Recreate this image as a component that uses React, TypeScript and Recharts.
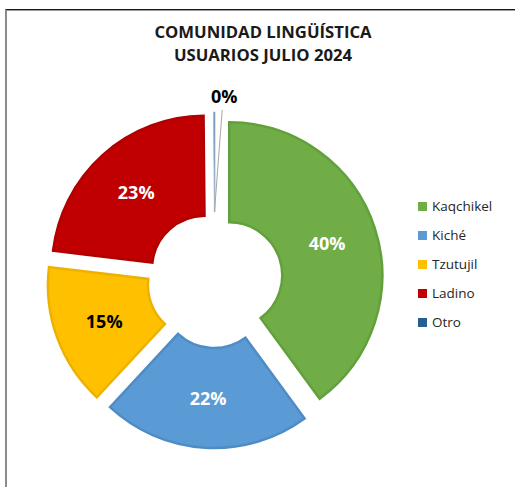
import React from 'react';
import { PieChart, Pie, Cell, Sector, Legend } from 'recharts';

const categories = ['Kaqchikel', 'Kiché', 'Tzutujil', 'Ladino', 'Otro'];
const values = [40, 22, 15, 23, 0.15];
const fills = ['#70AD47', '#5B9BD5', '#FFC000', '#C00000', '#255E91'];
const borders = ['#62A03C', '#4F8CC6', '#EDB200', '#B00000', '#A9BCD6'];
const labelColors = ['#FFFFFF', '#FFFFFF', '#000000', '#FFFFFF', '#000000'];
const titleLines = ['COMUNIDAD LINGÜÍSTICA', 'USUARIOS JULIO 2024'];

const data = categories.map((name, i) => ({ name, value: values[i] }));

const EXPLODE = 15;
const RAD = Math.PI / 180;
const FONT = '"Open Sans", "Noto Sans", sans-serif';

const offset = (midAngle: number) => ({
  dx: EXPLODE * Math.cos(-midAngle * RAD),
  dy: EXPLODE * Math.sin(-midAngle * RAD),
});

const ExplodedSector = (props: any) => {
  const { cx, cy, midAngle } = props;
  const { dx, dy } = offset(midAngle);
  return <Sector {...props} cx={cx + dx} cy={cy + dy} />;
};

const renderLabel = (props: any) => {
  const { cx, cy, midAngle, innerRadius, outerRadius, percent, index } = props;
  const { dx, dy } = offset(midAngle);
  const ox = cx + dx;
  const oy = cy + dy;
  const r = (innerRadius + outerRadius) / 2;
  const lx = ox + r * Math.cos(-midAngle * RAD);
  const ly = oy + r * Math.sin(-midAngle * RAD);
  const text = `${Math.round(percent * 100)}%`;
  if (index === 4) {
    const ex = ox + (outerRadius + 2) * Math.cos(-midAngle * RAD) + 8;
    const ey = oy + (outerRadius + 2) * Math.sin(-midAngle * RAD);
    return (
      <g>
        <line x1={lx} y1={ly + 50} x2={ex} y2={ey} stroke="#A6A6A6" strokeWidth={1} />
        <text
          x={ex + 2}
          y={ey - 14}
          textAnchor="middle"
          dominantBaseline="central"
          fill={labelColors[index]}
          fontFamily={FONT}
          fontWeight={700}
          fontSize={18}
        >
          {text}
        </text>
      </g>
    );
  }
  return (
    <text
      x={lx}
      y={ly}
      textAnchor="middle"
      dominantBaseline="central"
      fill={labelColors[index]}
      fontFamily={FONT}
      fontWeight={700}
      fontSize={18}
    >
      {text}
    </text>
  );
};

const renderLegend = () => (
  <div style={{ fontFamily: FONT, fontSize: 13.5, color: '#262626' }}>
    {categories.map((c, i) => (
      <div key={c} style={{ height: 29, display: 'flex', alignItems: 'center' }}>
        <span style={{ width: 9, height: 9, background: fills[i], display: 'inline-block', marginRight: 5 }} />
        <span>{c}</span>
      </div>
    ))}
  </div>
);

export default function App() {
  return (
    <div style={{ position: 'absolute', left: 0, top: 0, width: 515, height: 487, background: '#fff', overflow: 'hidden' }}>
      <div
        style={{
          position: 'absolute',
          left: 5,
          top: 9,
          width: 530,
          height: 500,
          borderTop: '1px solid #1a1a1a',
          borderLeft: '2px solid #8c8c8c',
          boxShadow: 'inset 0 1px 0 #9a9a9a',
        }}
      />
      <div
        style={{
          position: 'absolute',
          left: 0,
          top: 20,
          width: 526,
          textAlign: 'center',
          fontFamily: FONT,
          fontWeight: 700,
          fontSize: 16.7,
          lineHeight: '23px',
          color: '#1a1a1a',
        }}
      >
        {titleLines.map((t) => (
          <div key={t}>{t}</div>
        ))}
      </div>
      <div style={{ position: 'absolute', left: 0, top: 0 }}>
        <PieChart width={515} height={487} margin={{ top: 0, right: 0, bottom: 0, left: 0 }}>
          <Pie
            data={data}
            dataKey="value"
            nameKey="name"
            cx={215}
            cy={280}
            innerRadius={53}
            outerRadius={153}
            startAngle={90}
            endAngle={-270}
            shape={ExplodedSector}
            label={renderLabel}
            labelLine={false}
            isAnimationActive={false}
          >
            {data.map((d, i) => (
              <Cell key={d.name} fill={fills[i]} stroke={borders[i]} strokeWidth={i === 4 ? 1 : 2.5} />
            ))}
          </Pie>
          <Legend
            content={renderLegend}
            layout="vertical"
            wrapperStyle={{ position: 'absolute', left: 418, top: 191.5, width: 100 }}
          />
        </PieChart>
      </div>
    </div>
  );
}
